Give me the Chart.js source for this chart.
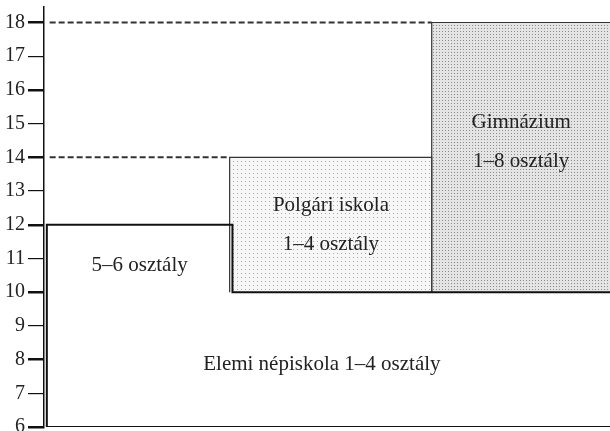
<!DOCTYPE html>
<html>
<head>
<meta charset="utf-8">
<script src="https://cdn.jsdelivr.net/npm/chart.js@4.4.1/dist/chart.umd.min.js"></script>
<style>
  html, body { margin: 0; padding: 0; background: #fff; }
  #wrap { width: 610px; height: 431px; }
</style>
</head>
<body>
<div id="wrap"><canvas id="iskolaChart"></canvas></div>
<script>
// életkor tengely
const yTicks = [6, 7, 8, 9, 10, 11, 12, 13, 14, 15, 16, 17, 18];

// iskolatípusok: életkor (y) és oszlop (x, 0-100)
const levels = ['Elemi népiskola', '5–6 osztály', 'Polgári iskola', 'Gimnázium'];
const startAge = [6, 10, 10, 10];
const endAge = [10, 12, 14, 18];
const colStart = [0.5, 0.5, 32.8, 68.5];
const colEnd = [101, 33.3, 68.5, 101];

// feliratok
const labelLines = [['Elemi népiskola 1–4 osztály'], ['5–6 osztály'], ['Polgári iskola', '1–4 osztály'], ['Gimnázium', '1–8 osztály']];
const labelX = [49.1, 16.9, 50.7, 84.3];
const labelY = [7.84, 10.8, 12.0, 14.45];

const betu = "'Liberation Serif', 'Times New Roman', serif";

function pottyMinta(meret, hatter, potty) {
    const c = document.createElement('canvas');
    c.width = meret; c.height = meret;
    const g = c.getContext('2d');
    g.fillStyle = hatter;
    g.fillRect(0, 0, meret, meret);
    g.fillStyle = potty;
    g.fillRect(1, 1, 1, 1);
    return g.createPattern(c, 'repeat');
}
const ctx = document.getElementById('iskolaChart').getContext('2d');
const vilagos = pottyMinta(4, '#f7f7f7', '#a8a8a8');
const sotet = pottyMinta(3, '#e4e4e4', '#8c8c8c');

// elemi + 5-6 osztály körvonala
const elemiVonal = [
    {x: colEnd[0], y: startAge[0]},
    {x: colStart[0], y: startAge[0]},
    {x: colStart[1], y: endAge[1]},
    {x: colEnd[1], y: endAge[1]},
    {x: colEnd[1], y: endAge[0]},
    {x: colEnd[0], y: endAge[0]}
];

function doboz(i) {
    return [
        {x: colStart[i], y: startAge[i]},
        {x: colStart[i], y: endAge[i]},
        {x: colEnd[i], y: endAge[i]},
        {x: colEnd[i], y: startAge[i]}
    ];
}

const feliratok = {
    id: 'feliratok',
    afterDatasetsDraw(chart) {
        const c = chart.ctx;
        const sx = chart.scales.x, sy = chart.scales.y;
        c.save();
        c.font = '21px ' + betu;
        c.fillStyle = '#222';
        c.textAlign = 'center';
        c.textBaseline = 'middle';
        labelLines.forEach((lines, i) => {
            const px = sx.getPixelForValue(labelX[i]);
            const py = sy.getPixelForValue(labelY[i]);
            lines.forEach((t, j) => {
                c.fillText(t, px, py + (j - (lines.length - 1) / 2) * 39);
            });
        });
        c.restore();
    }
};

new Chart(ctx, {
    type: 'scatter',
    data: {
        datasets: [
            {
                label: levels[0],
                data: elemiVonal,
                showLine: true,
                borderColor: '#111',
                borderWidth: 2,
                pointRadius: 0,
                fill: false
            },
            {
                label: 'szaggatott 18',
                data: [{x: 1, y: endAge[3]}, {x: colStart[3], y: endAge[3]}],
                showLine: true,
                borderColor: '#333',
                borderWidth: 2,
                borderDash: [6, 3],
                pointRadius: 0
            },
            {
                label: 'szaggatott 14',
                data: [{x: 1, y: endAge[2]}, {x: colStart[2], y: endAge[2]}],
                showLine: true,
                borderColor: '#333',
                borderWidth: 2,
                borderDash: [6, 3],
                pointRadius: 0
            },
            {
                label: levels[2],
                data: doboz(2),
                showLine: true,
                borderColor: '#333',
                borderWidth: 1.2,
                backgroundColor: vilagos,
                pointRadius: 0,
                fill: {value: startAge[2]}
            },
            {
                label: levels[3],
                data: doboz(3),
                showLine: true,
                borderColor: '#333',
                borderWidth: 1.2,
                backgroundColor: sotet,
                pointRadius: 0,
                fill: {value: startAge[3]}
            }
        ]
    },
    options: {
        responsive: true,
        maintainAspectRatio: false,
        animation: false,
        layout: { padding: { top: 7, bottom: 4, left: 0, right: 0 } },
        plugins: {
            legend: { display: false },
            tooltip: { enabled: false }
        },
        scales: {
            x: {
                type: 'linear',
                display: false,
                min: 0,
                max: 100
            },
            y: {
                type: 'linear',
                min: 6,
                max: 18.46,
                afterBuildTicks: (scale) => {
                    scale.ticks = yTicks.map(v => ({value: v}));
                },
                afterFit: (scale) => {
                    scale.width = 44;
                    scale.paddingTop = 0;
                    scale.paddingBottom = 0;
                },
                ticks: {
                    padding: 3,
                    color: '#222',
                    font: { family: betu, size: 20 }
                },
                grid: {
                    drawOnChartArea: false,
                    tickLength: 16,
                    color: '#111',
                    lineWidth: (c) => (c.tick && c.tick.value % 2 === 0) ? 2.5 : 1.2
                },
                border: { color: '#111', width: 1.5 }
            }
        }
    },
    plugins: [feliratok]
});
</script>
</body>
</html>
